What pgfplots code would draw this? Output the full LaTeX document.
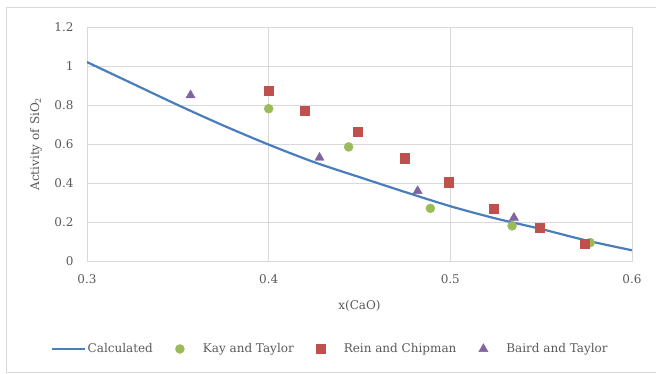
\documentclass[border=0pt]{standalone}
\usepackage{fontspec}
\setmainfont{DejaVu Serif}
\usepackage{pgfplots}
\pgfplotsset{compat=1.18}
\definecolor{gridgrey}{HTML}{D9D9D9}
\definecolor{tickgrey}{HTML}{595959}
\definecolor{lineblue}{HTML}{4A7EBB}
\definecolor{mgreen}{HTML}{9BBB59}
\definecolor{mred}{HTML}{C0504D}
\definecolor{mpurple}{HTML}{8064A2}
\newcommand{\chartfont}{\fontsize{12}{14}\selectfont}
\pgfplotsset{
  lineimg/.style={legend image code/.code={\draw[##1] (0pt,0pt) -- (33pt,0pt);}},
  markimg/.style={legend image code/.code={\path[draw=none,fill=none] (0pt,0pt) rectangle (26pt,0.1pt); \draw[##1] plot coordinates {(5pt,0pt)};}},
}
\begin{document}
\begin{tikzpicture}
\useasboundingbox (-87pt,-113pt) rectangle (569pt,261pt);
\draw[gridgrey, line width=0.8pt] (570pt,254pt) -- (-81pt,254pt) -- (-81pt,-111pt) -- (570pt,-111pt);
\begin{axis}[
  at={(0pt,0pt)}, anchor=south west,
  scale only axis, width=545pt, height=234pt,
  xmin=0.3, xmax=0.6, ymin=0, ymax=1.2,
  xtick={0.3,0.4,0.5,0.6},
  ytick={0,0.2,0.4,0.6,0.8,1,1.2},
  xticklabel={\pgfmathprintnumber[assume math mode=true]{\tick}},
  yticklabel={\pgfmathprintnumber[assume math mode=true]{\tick}},
  grid=major,
  grid style={draw=gridgrey, line width=0.75pt},
  axis line style={draw=gridgrey, line width=0.75pt},
  tick style={draw=none},
  ticklabel style={font=\chartfont, text=tickgrey},
  xticklabel style={yshift=-10pt},
  yticklabel style={xshift=-10pt},
  every axis x label/.style={at={(axis description cs:0.5,-0.192)}, anchor=center, font=\chartfont, text=tickgrey},
  every axis y label/.style={at={(axis description cs:-0.0936,0.5)}, rotate=90, anchor=center, font=\chartfont, text=tickgrey},
  xlabel={x(CaO)},
  ylabel={Activity of SiO\textsubscript{2}},
  legend columns=4,
  legend style={at={(rel axis cs:0.446,-0.376)}, anchor=center, draw=none, fill=none,
    font=\chartfont, text=tickgrey, /tikz/every even column/.append style={column sep=20pt}},
  legend cell align=left,
]
\addplot[lineblue, line width=2.2pt, smooth, no marks, lineimg]
  coordinates {
  (0.300,1.020) (0.325,0.910) (0.350,0.800) (0.375,0.695) (0.400,0.597)
  (0.425,0.507) (0.450,0.430) (0.475,0.354) (0.500,0.281) (0.525,0.218)
  (0.550,0.164) (0.575,0.105) (0.600,0.055)};
\addlegendentry{Calculated}
\addplot[only marks, mark=*, mark size=4.5pt, mgreen, mark options={draw=mgreen, fill=mgreen}, markimg]
  coordinates {(0.400,0.781) (0.444,0.585) (0.489,0.270) (0.534,0.180) (0.577,0.094)};
\addlegendentry{Kay and Taylor}
\addplot[only marks, mark=square*, mark size=4.6pt, mred, mark options={draw=mred, fill=mred}, markimg]
  coordinates {(0.400,0.872) (0.420,0.769) (0.449,0.664) (0.475,0.527) (0.499,0.404) (0.524,0.269) (0.549,0.169) (0.574,0.089)};
\addlegendentry{Rein and Chipman}
\addplot[only marks, mark=triangle*, mark size=5.3pt, mpurple, mark options={draw=mpurple, fill=mpurple}, markimg]
  coordinates {(0.357,0.850) (0.428,0.530) (0.482,0.359) (0.535,0.222)};
\addlegendentry{Baird and Taylor}
\end{axis}
\end{tikzpicture}
\end{document}
